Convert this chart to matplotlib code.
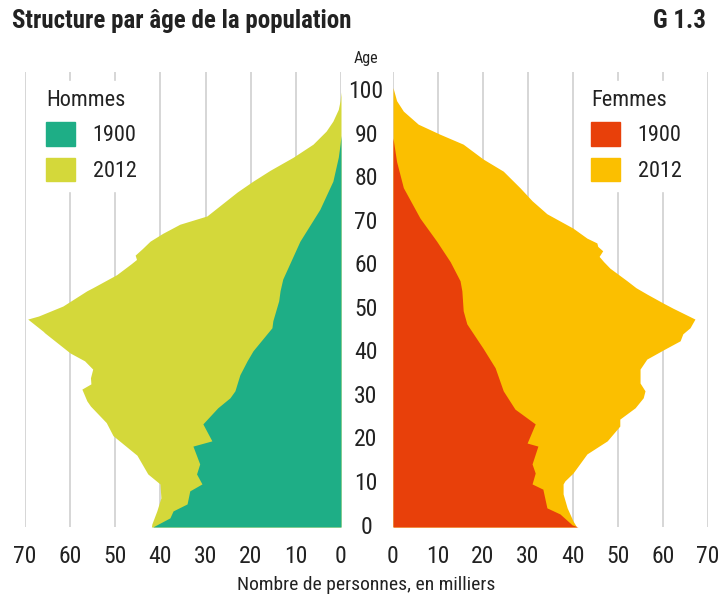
import matplotlib
matplotlib.use("Agg")
import matplotlib.pyplot as plt
from matplotlib.patches import Patch
from matplotlib.transforms import blended_transform_factory

plt.rcParams["font.family"] = ["Roboto Condensed", "DejaVu Sans"]

# Hommes 2012 (age, milliers)
h2012_age = [0, 0.7, 3.7, 6.7, 9.9, 12.2, 16.5, 21, 24, 27.8, 29, 31.7, 32.9, 34.3, 36.3,
             38.2, 40, 44.6, 45, 47.8, 48.5, 50.8, 54.3, 55, 58, 60.5, 61.5, 62.5, 64,
             65.7, 67.5, 69.6, 71.5, 77, 79.5, 82, 85, 88, 91, 93.3, 96, 98, 100]
h2012_val = [42.0, 41.9, 40.8, 39.9, 40.1, 42.8, 45.2, 50.5, 52, 55.5, 56.3, 57.4, 55.4, 55.5, 55,
             56.8, 60, 65.6, 66, 69.4, 67, 61.6, 56.3, 55, 49.7, 46.5, 45.3, 45.6, 44,
             42.3, 39.5, 35.7, 29.7, 23, 19.5, 15.7, 10.6, 6.2, 3.3, 1.8, 0.6, 0.2, 0]

# Hommes 1900
h1900_age = [0, 2.1, 3.7, 5.3, 8.3, 9.9, 12.2, 14.5, 18.6, 19.8, 23.7, 27.4, 29.7, 31.3, 35,
             38.2, 40.5, 45.8, 47.4, 52, 54.3, 57, 65.7, 73, 79.5, 85, 88, 90]
h1900_val = [41.7, 37.9, 37.2, 34.1, 33.5, 30.8, 32, 31.3, 32.8, 28.6, 30.6, 27.3, 24.6, 23.5, 22.4,
             20.8, 19.5, 15.3, 15.1, 13.8, 13.5, 12.9, 9.1, 4.7, 1.8, 0.6, 0.2, 0]

# Femmes 2012
f2012_age = [0, 1.4, 4.4, 7.6, 9.9, 10.6, 12.4, 16.8, 19.8, 23.2, 24.8, 27.4, 29.7, 31.3, 33.1,
             36.3, 38.6, 40.9, 42.8, 44.4, 45.8, 47.8, 50.3, 51.5, 53.5, 55, 56.6, 59.5, 61,
             62.2, 63.5, 64.5, 65.3, 66.4, 68.7, 72, 75, 78, 81.8, 84.6, 88, 90.3, 92.6, 95.6,
             98, 101]
f2012_val = [40.8, 40, 38.7, 37.8, 37.8, 38.2, 40, 43.1, 47.6, 50.4, 50.4, 53.8, 55.6, 56, 54.9,
             54.9, 56.4, 60.4, 63.8, 64.4, 66, 67.1, 62.2, 60, 56.5, 54, 52, 48.2, 46.8,
             45.8, 46.6, 45.5, 45.3, 43.1, 40, 34.2, 30.9, 28.2, 24.5, 20, 15.6, 10.4, 5.6, 2.3,
             0.8, 0]

# Femmes 1900
f1900_age = [0, 0.5, 3, 4.4, 8.7, 9.9, 12.4, 14.5, 18.6, 19.3, 23.7, 27.1, 31.3, 36.6, 41.1,
             42.8, 46.7, 49.7, 54.3, 56.6, 61, 65.7, 71, 78, 84, 89.4]
f1900_val = [41.1, 39.8, 37.1, 34.2, 33.3, 30.9, 31.6, 30.9, 32.2, 29.8, 31.6, 27.1, 24.5, 22.7, 20,
             18.9, 16.4, 15.6, 15.3, 14.9, 12.7, 9.7, 6, 2.3, 0.8, 0]

x_ticks = [0, 10, 20, 30, 40, 50, 60, 70]
age_ticks = [0, 10, 20, 30, 40, 50, 60, 70, 80, 90, 100]

C_H1900 = "#1EAE86"
C_H2012 = "#D4D83A"
C_F1900 = "#E8400A"
C_F2012 = "#FBBF00"
GRID = "#cccccc"
TXT = "#222222"

W, H = 723, 594
fig = plt.figure(figsize=(W / 100, H / 100), dpi=100)

bottom = (H - 527) / H
height = 454.6 / H
ax_h = fig.add_axes([25 / W, bottom, (341 - 25) / W, height])
ax_f = fig.add_axes([393 / W, bottom, (708 - 393) / W, height])

ax_h.fill_betweenx(h2012_age, 0, h2012_val, color=C_H2012, lw=0, zorder=2)
ax_h.fill_betweenx(h1900_age, 0, h1900_val, color=C_H1900, lw=0, zorder=3)
ax_f.fill_betweenx(f2012_age, 0, f2012_val, color=C_F2012, lw=0, zorder=2)
ax_f.fill_betweenx(f1900_age, 0, f1900_val, color=C_F1900, lw=0, zorder=3)

for ax, xlim in ((ax_h, (70, 0)), (ax_f, (0, 70))):
    ax.set_xlim(*xlim)
    ax.set_ylim(0, 104.5)
    ax.set_xticks(x_ticks)
    ax.set_yticks([])
    ax.tick_params(axis="x", length=0, pad=13, labelsize=17, labelcolor=TXT)
    ax.grid(axis="x", color=GRID, lw=1.1)
    ax.set_axisbelow(True)
    for s in ax.spines.values():
        s.set_visible(False)

# libellés d'âge au centre
tr = blended_transform_factory(fig.transFigure, ax_f.transData)
for a in age_ticks:
    ax_f.text(366 / W, a, str(a), transform=tr, ha="center", va="center",
              fontsize=17, color=TXT, clip_on=False)
fig.text(366 / W, 1 - 58 / H, "Age", ha="center", va="center", fontsize=11.5, color=TXT)

# légendes
leg_kw = dict(frameon=True, fancybox=False, framealpha=1, edgecolor="white",
              fontsize=16, title_fontsize=16, alignment="left",
              handlelength=1.3, handleheight=1.22, handletextpad=0.8,
              labelspacing=0.52, borderpad=0.4, borderaxespad=0)
lh = ax_h.legend([Patch(color=C_H1900), Patch(color=C_H2012)], ["1900", "2012"],
                 title="Hommes", loc="upper left",
                 bbox_to_anchor=(37 / W, 1 - 81 / H), bbox_transform=fig.transFigure, **leg_kw)
lf = ax_f.legend([Patch(color=C_F1900), Patch(color=C_F2012)], ["1900", "2012"],
                 title="Femmes", loc="upper left",
                 bbox_to_anchor=(582 / W, 1 - 81 / H), bbox_transform=fig.transFigure, **leg_kw)
for lg in (lh, lf):
    lg.get_title().set_color(TXT)
    for t in lg.get_texts():
        t.set_color(TXT)

fig.text(12 / W, 1 - 21 / H, "Structure par âge de la population", ha="left", va="center",
         fontsize=18, fontweight="bold", color=TXT)
fig.text(706 / W, 1 - 21 / H, "G 1.3", ha="right", va="center",
         fontsize=18, fontweight="bold", color=TXT)
fig.text(366 / W, 1 - 585 / H, "Nombre de personnes, en milliers", ha="center", va="center",
         fontsize=14, color=TXT)

fig.savefig("out.png", dpi=100)
